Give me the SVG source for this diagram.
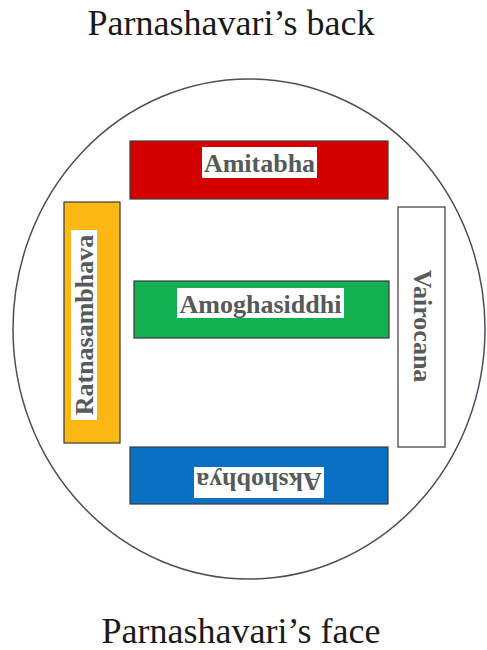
<svg xmlns="http://www.w3.org/2000/svg" width="487" height="650" viewBox="0 0 487 650">
<style>
.title{font-family:"Liberation Serif","Times New Roman",serif;font-size:36px;fill:#1a1a1a;text-anchor:middle}
.box{stroke:#3a3a3a;stroke-width:1.2}
.lblbg{fill:#ffffff}
.lbl{font-family:"Liberation Serif","Times New Roman",serif;font-size:26px;font-weight:bold;fill:#555a5a;text-anchor:middle}
</style>
<rect width="487" height="650" fill="#ffffff"/>
<text class="title" x="231" y="35">Parnashavari’s back</text>
<text class="title" x="241" y="643">Parnashavari’s face</text>
<ellipse cx="249" cy="329" rx="236" ry="250" fill="none" stroke="#4a4e5e" stroke-width="1.5"/>
<g id="amitabha">
<rect class="box" x="130" y="141" width="258" height="58" fill="#d50000"/>
<rect class="lblbg" x="202" y="147" width="115" height="31"/>
<text class="lbl" x="259.5" y="172">Amitabha</text>
</g>
<g id="amoghasiddhi">
<rect class="box" x="134" y="281" width="255" height="57" fill="#12b050"/>
<rect class="lblbg" x="177" y="288" width="167" height="30"/>
<text class="lbl" x="260.5" y="313">Amoghasiddhi</text>
</g>
<g id="akshobhya">
<rect class="box" x="130" y="447" width="258" height="57" fill="#0a70c4"/>
<rect class="lblbg" x="194" y="467" width="130" height="31"/>
<text class="lbl" transform="translate(259,473) rotate(180)">Akshobhya</text>
</g>
<g id="ratnasambhava">
<rect class="box" x="64" y="202" width="56" height="241" fill="#fdb813"/>
<rect class="lblbg" x="71" y="230" width="26" height="190"/>
<text class="lbl" transform="translate(93,325) rotate(-90)">Ratnasambhava</text>
</g>
<g id="vairocana">
<rect class="box" x="398" y="207" width="47" height="240" fill="#ffffff"/>
<text class="lbl" transform="translate(414,326) rotate(90)">Vairocana</text>
</g>
<g id="connectors"/>
</svg>
